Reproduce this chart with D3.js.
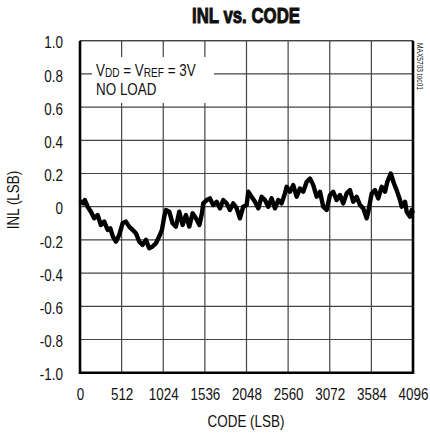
<!DOCTYPE html>
<html>
<head>
<meta charset="utf-8">
<script src="https://cdn.jsdelivr.net/npm/d3@7/dist/d3.min.js"></script>
<style>
  html, body { margin: 0; padding: 0; background: #fff; }
  svg { display: block; }
  text { font-family: "Liberation Sans", Arial, sans-serif; fill: #111; }
</style>
</head>
<body>
<svg id="chart" width="430" height="434"></svg>
<script>
// INL measurement, code (LSB) vs. error (LSB)
const codes = [0, 23, 44, 60, 94, 134, 175, 217, 257, 298, 340, 372, 405, 442, 482, 524, 565, 605, 647, 688,
  728, 770, 811, 851, 893, 934, 974, 1008, 1036, 1057, 1098, 1139, 1180, 1221, 1262, 1303, 1344, 1385, 1426, 1469,
  1500, 1516, 1558, 1598, 1639, 1681, 1721, 1762, 1804, 1844, 1885, 1927, 1967, 2008, 2050, 2070, 2111, 2152, 2193, 2234,
  2275, 2316, 2357, 2398, 2439, 2480, 2521, 2542, 2583, 2623, 2665, 2706, 2746, 2788, 2829, 2869, 2911, 2952, 2992, 3034,
  3075, 3115, 3157, 3198, 3238, 3280, 3321, 3361, 3403, 3444, 3484, 3526, 3546, 3588, 3628, 3669, 3711, 3752, 3780, 3822,
  3862, 3895, 3936, 3957, 3998, 4018, 4059, 4080, 4096];
const inl = [0.02, 0.03, 0.02, 0.04, 0.00, -0.03, -0.07, -0.05, -0.11, -0.09, -0.14, -0.13, -0.18, -0.21, -0.17, -0.10, -0.09, -0.12, -0.14, -0.16,
  -0.21, -0.23, -0.20, -0.25, -0.24, -0.22, -0.18, -0.14, -0.06, -0.02, -0.03, -0.10, -0.12, -0.03, -0.11, -0.05, -0.12, -0.04, -0.07, -0.11,
  -0.04, 0.02, 0.04, 0.05, 0.01, 0.03, -0.01, 0.04, 0.02, -0.02, 0.02, -0.01, -0.07, 0.00, 0.01, 0.09, 0.06, 0.03, -0.01, 0.06,
  0.04, 0.00, 0.05, -0.01, 0.04, 0.02, 0.08, 0.12, 0.09, 0.13, 0.06, 0.11, 0.09, 0.15, 0.17, 0.13, 0.06, 0.09, 0.00, -0.02,
  0.07, 0.09, 0.04, 0.07, 0.02, 0.08, 0.10, 0.03, 0.06, 0.01, -0.01, -0.07, -0.03, 0.08, 0.10, 0.05, 0.12, 0.09, 0.15, 0.20,
  0.14, 0.10, 0.04, 0.00, 0.03, -0.03, -0.06, -0.02, -0.04];

const xTicks = [0, 512, 1024, 1536, 2048, 2560, 3072, 3584, 4096];
const yTicks = [-1.0, -0.8, -0.6, -0.4, -0.2, 0, 0.2, 0.4, 0.6, 0.8, 1.0];
const yTickLabels = ["-1.0", "-0.8", "-0.6", "-0.4", "-0.2", "0", "0.2", "0.4", "0.6", "0.8", "1.0"];

const svg = d3.select("#chart");
const plotLeft = 80, plotRight = 413, plotTop = 40.7, plotBottom = 372.7;
const narrow = "scale(0.84,1)";   // condensed lettering

const x = d3.scaleLinear().domain([0, 4096]).range([plotLeft, plotRight]);
const y = d3.scaleLinear().domain([-1, 1]).range([plotBottom, plotTop]);

// Places a condensed text label with its anchor at (px, py)
function label(px, py, str, size, anchor) {
  return svg.append("g").attr("transform", `translate(${px},${py})`)
    .append("text")
    .attr("transform", narrow)
    .attr("font-size", size)
    .attr("text-anchor", anchor || "start")
    .text(str);
}

// Title
svg.append("text")
  .attr("x", 246).attr("y", 23)
  .attr("text-anchor", "middle")
  .attr("font-size", 22).attr("font-weight", "bold")
  .attr("stroke", "#111").attr("stroke-width", 1)
  .attr("textLength", 108).attr("lengthAdjust", "spacingAndGlyphs")
  .text("INL vs. CODE");

// Grid
const grid = svg.append("g").attr("stroke", "#444").attr("stroke-width", 1.2);
grid.selectAll("line.v").data(xTicks.slice(1, -1)).join("line")
  .attr("class", "v")
  .attr("x1", d => x(d)).attr("x2", d => x(d))
  .attr("y1", plotTop).attr("y2", plotBottom);
grid.selectAll("line.h").data(yTicks.slice(1)).join("line")
  .attr("class", "h")
  .attr("x1", plotLeft).attr("x2", plotRight)
  .attr("y1", d => y(d)).attr("y2", d => y(d));

// Condition box over the grid
svg.append("rect")
  .attr("x", 92).attr("y", 57).attr("width", 122).attr("height", 46)
  .attr("fill", "#fff");
const note = label(96, 76, "", 16);
note.append("tspan").text("V");
note.append("tspan").attr("font-size", 12).attr("dy", 1).text("DD");
note.append("tspan").attr("dy", -1).text(" = V");
note.append("tspan").attr("font-size", 12).attr("dy", 1).text("REF");
note.append("tspan").attr("dy", -1).text(" = 3V");
label(96, 95, "NO LOAD", 16);

// Curve
const line = d3.line().x((d, i) => x(codes[i])).y(d => y(d)).curve(d3.curveLinear);
svg.append("path")
  .datum(inl)
  .attr("d", line)
  .attr("fill", "none")
  .attr("stroke", "#000")
  .attr("stroke-width", 4.4)
  .attr("stroke-linejoin", "round");

// Frame: heavy left, bottom and right edges
svg.append("line").attr("x1", plotLeft).attr("x2", plotRight).attr("y1", plotTop).attr("y2", plotTop)
  .attr("stroke", "#444").attr("stroke-width", 1.2);
svg.append("path")
  .attr("d", `M${plotLeft},${plotTop}V${plotBottom}H${plotRight}V${plotTop}`)
  .attr("fill", "none").attr("stroke", "#000").attr("stroke-width", 2.6);

// Axes (labels only)
const xAxis = d3.axisBottom(x).tickValues(xTicks).tickSize(0).tickPadding(0).tickFormat(d3.format("d"));
const gx = svg.append("g").attr("transform", `translate(0,${plotBottom + 16})`).call(xAxis);
gx.select(".domain").remove();
gx.selectAll("text").attr("font-size", 16).attr("font-family", null).attr("fill", "#111")
  .attr("transform", narrow);

const yAxis = d3.axisLeft(y).tickValues(yTicks).tickSize(0).tickPadding(0)
  .tickFormat((d, i) => yTickLabels[i]);
const gy = svg.append("g").attr("transform", `translate(${plotLeft - 17},2)`).call(yAxis);
gy.select(".domain").remove();
gy.selectAll("text").attr("font-size", 16).attr("font-family", null).attr("fill", "#111")
  .attr("transform", narrow);

// Axis titles
label(246, 427, "CODE (LSB)", 16, "middle");
svg.append("text")
  .attr("transform", `translate(18.5,200) rotate(-90) ${narrow}`)
  .attr("text-anchor", "middle").attr("font-size", 16)
  .text("INL (LSB)");

// Figure tag along the right edge
svg.append("text")
  .attr("transform", "translate(417,43) rotate(90)")
  .attr("font-size", 8.5).attr("fill", "#222")
  .attr("textLength", 47).attr("lengthAdjust", "spacingAndGlyphs")
  .text("MAX5703 toc01");
</script>
</body>
</html>
